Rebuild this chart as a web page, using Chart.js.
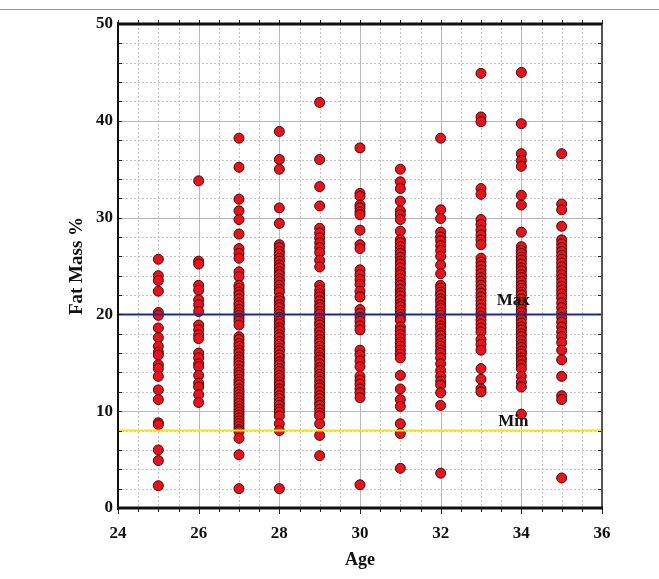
<!DOCTYPE html>
<html>
<head>
<meta charset="utf-8">
<script src="https://cdn.jsdelivr.net/npm/chart.js@4.4.1/dist/chart.umd.min.js"></script>
<style>
  html, body { margin: 0; padding: 0; background: #fff; }
  canvas { display: block; }
</style>
</head>
<body>
<canvas id="fatChart" width="659" height="579"></canvas>
<script>
const ages = [25, 26, 27, 28, 29, 30, 31, 32, 33, 34, 35];

const fat25 = [25.7, 24.0, 23.5, 22.4, 20.2, 19.9, 18.6, 17.6, 16.7, 16.1, 15.8, 14.8, 14.4, 13.6, 12.2, 11.2, 8.8, 8.6, 6.0, 4.9, 2.3];
const fat26 = [33.8, 25.5, 25.2, 23.0, 22.5, 21.5, 21.0, 20.3, 18.9, 18.4, 17.9, 17.5, 16.0, 15.5, 14.9, 14.6, 13.7, 12.9, 12.5, 11.7, 10.9];
const fat27 = [38.2, 35.2, 31.9, 30.7, 29.8, 28.3, 26.8, 26.3, 25.8, 24.4, 23.9, 23.0, 22.7, 22.3, 22.0, 21.6, 21.2, 20.9, 20.5, 20.2, 19.9, 19.6, 19.3, 18.9,
  17.7, 17.4, 17.0, 16.7, 16.3, 16.0, 15.6, 15.3, 15.0, 14.7, 14.3, 14.0, 13.7, 13.3, 13.0, 12.7, 12.3, 12.0, 11.7, 11.4, 11.1, 10.8, 10.5, 10.2,
  9.9, 9.6, 9.3, 9.0, 8.7, 8.4, 8.1, 7.9, 7.2, 5.5, 2.0];
const fat28 = [38.9, 36.0, 35.0, 31.0, 29.4, 27.2, 26.9, 26.5, 26.2, 25.8, 25.5, 25.1, 24.8, 24.4, 24.1, 23.7, 23.4, 23.0, 22.6, 22.3,
  21.7, 21.4, 21.0, 20.7, 20.3, 20.0, 19.7, 19.3, 19.0, 18.6, 18.3, 17.9, 17.6, 17.2, 16.9, 16.5, 16.2, 15.8, 15.5, 15.1, 14.8, 14.4,
  14.1, 13.7, 13.4, 13.0, 12.7, 12.3, 12.0, 11.6, 11.3, 10.9, 10.6, 10.2, 9.9, 9.5, 8.7, 8.0, 2.0];
const fat29 = [41.9, 36.0, 33.2, 31.2, 28.9, 28.4, 27.9, 27.4, 26.9, 26.4, 25.6, 24.9, 23.0, 22.5, 22.1, 21.8, 21.4, 21.0, 20.7, 20.3,
  20.0, 19.6, 19.2, 18.9, 18.5, 18.2, 17.8, 17.4, 17.1, 16.7, 16.3, 16.0, 15.6, 15.3, 14.9, 14.5, 14.2, 13.8, 13.5, 13.1, 12.7, 12.4,
  12.0, 11.6, 11.3, 10.9, 10.6, 10.2, 9.8, 9.5, 8.7, 7.5, 5.4];
const fat30 = [37.2, 32.5, 32.2, 31.3, 31.0, 30.6, 30.3, 28.7, 27.2, 26.8, 24.6, 24.1, 23.6, 23.1, 22.4, 21.8, 20.5, 20.1, 19.7, 19.3,
  18.8, 18.4, 16.3, 15.8, 15.2, 14.6, 13.6, 13.2, 12.8, 12.3, 11.9, 11.4, 2.4];
const fat31 = [35.0, 33.7, 33.0, 31.7, 30.7, 30.3, 29.8, 28.6, 27.7, 27.4, 27.0, 26.6, 26.3, 25.9, 25.5, 25.2, 24.8, 24.4, 24.1, 23.7,
  23.3, 23.0, 22.6, 22.2, 21.9, 21.5, 21.1, 20.8, 20.4, 20.0, 19.7, 19.4, 18.7, 18.3, 17.9, 17.5, 17.1, 16.7, 16.3, 15.9, 15.5, 13.7,
  12.3, 11.2, 10.5, 8.7, 7.7, 4.1];
const fat32 = [38.2, 30.8, 29.9, 28.5, 28.0, 27.6, 27.1, 26.6, 26.0, 25.1, 24.2, 23.0, 22.7, 22.3, 22.0, 21.6, 21.3, 20.9, 20.6, 20.2,
  19.9, 19.5, 19.2, 18.8, 18.5, 18.1, 17.8, 17.4, 17.0, 16.7, 16.3, 16.0, 15.5, 14.9, 14.2, 13.6, 13.1, 12.7, 11.9, 10.6, 3.6];
const fat33 = [44.9, 40.4, 39.9, 33.0, 32.4, 29.8, 29.3, 28.7, 28.2, 27.7, 27.2, 25.8, 25.4, 25.0, 24.6, 24.2, 23.8, 23.4, 23.0, 22.6,
  22.2, 21.8, 21.4, 21.0, 20.6, 20.2, 19.8, 19.4, 19.0, 18.6, 18.2, 17.4, 16.9, 16.3, 14.4, 13.3, 12.3, 12.0];
const fat34 = [45.0, 39.7, 36.6, 35.9, 35.3, 32.3, 31.3, 28.5, 27.0, 26.6, 26.3, 25.9, 25.6, 25.2, 24.8, 24.5, 24.1, 23.8, 23.4, 23.0,
  22.7, 22.3, 22.0, 21.6, 21.2, 20.9, 20.5, 20.2, 19.8, 19.5, 19.1, 18.7, 18.4, 18.0, 17.7, 17.3, 16.9, 16.6, 16.2, 15.9, 15.5, 15.2,
  14.8, 14.4, 13.6, 13.0, 12.5, 9.7];
const fat35 = [36.6, 31.4, 30.8, 29.1, 27.7, 27.3, 26.9, 26.5, 26.1, 25.7, 25.3, 24.9, 24.5, 24.1, 23.7, 23.3, 22.9, 22.5, 22.1, 21.7,
  21.2, 20.7, 20.2, 19.7, 19.2, 18.7, 18.2, 17.7, 17.1, 16.3, 15.3, 13.6, 11.6, 11.2, 3.1];

const fatByAge = [fat25, fat26, fat27, fat28, fat29, fat30, fat31, fat32, fat33, fat34, fat35];

const maxLimit = 20;
const minLimit = 8;
const xRange = [24, 36];
const yRange = [0, 50];
const xLabels = [24, 26, 28, 30, 32, 34, 36];
const yLabels = [0, 10, 20, 30, 40, 50];

const serif = "'Liberation Serif', 'Times New Roman', serif";

let puntos = [];
ages.forEach((edad, i) => {
  fatByAge[i].forEach((v) => puntos.push({ x: edad, y: v }));
});

// grid, frame, ticks and Max/Min text
const marco = {
  id: "marco",
  beforeDatasetsDraw(chart) {
    const { ctx, chartArea: a, scales: { x, y } } = chart;
    ctx.save();
    ctx.lineWidth = 1;
    // minor dotted grid
    ctx.strokeStyle = "#c4c4c4";
    ctx.setLineDash([2, 2]);
    for (let v = xRange[0] + 0.5; v < xRange[1]; v += 0.5) {
      if (v % 2 === 0) continue;
      const px = Math.round(x.getPixelForValue(v)) + 0.5;
      ctx.beginPath(); ctx.moveTo(px, a.top); ctx.lineTo(px, a.bottom); ctx.stroke();
    }
    for (let v = 2; v < yRange[1]; v += 2) {
      if (v % 10 === 0) continue;
      const py = Math.round(y.getPixelForValue(v)) + 0.5;
      ctx.beginPath(); ctx.moveTo(a.left, py); ctx.lineTo(a.right, py); ctx.stroke();
    }
    // major solid grid
    ctx.setLineDash([]);
    ctx.strokeStyle = "#b8b8b8";
    xLabels.slice(1, -1).forEach((v) => {
      const px = Math.round(x.getPixelForValue(v)) + 0.5;
      ctx.beginPath(); ctx.moveTo(px, a.top); ctx.lineTo(px, a.bottom); ctx.stroke();
    });
    yLabels.slice(1, -1).forEach((v) => {
      const py = Math.round(y.getPixelForValue(v)) + 0.5;
      ctx.beginPath(); ctx.moveTo(a.left, py); ctx.lineTo(a.right, py); ctx.stroke();
    });
    ctx.restore();
  },
  afterDatasetsDraw(chart) {
    const { ctx, chartArea: a, scales: { x, y } } = chart;
    ctx.save();
    // outer figure border
    ctx.strokeStyle = "#9a9a9a";
    ctx.lineWidth = 1;
    ctx.beginPath(); ctx.moveTo(0, 9.5); ctx.lineTo(659, 9.5); ctx.stroke();

    // ticks
    ctx.strokeStyle = "#222";
    for (let v = xRange[0]; v <= xRange[1]; v += 0.5) {
      const px = Math.round(x.getPixelForValue(v)) + 0.5;
      const len = v % 2 === 0 ? 6 : 4;
      ctx.beginPath(); ctx.moveTo(px, a.top); ctx.lineTo(px, a.top - 4); ctx.stroke();
      ctx.beginPath(); ctx.moveTo(px, a.bottom); ctx.lineTo(px, a.bottom + len); ctx.stroke();
    }
    for (let v = yRange[0]; v <= yRange[1]; v += 2) {
      const py = Math.round(y.getPixelForValue(v)) + 0.5;
      ctx.beginPath(); ctx.moveTo(a.left, py); ctx.lineTo(a.left + 4, py); ctx.stroke();
      ctx.beginPath(); ctx.moveTo(a.right, py); ctx.lineTo(a.right - 4, py); ctx.stroke();
    }

    // frame
    ctx.strokeStyle = "#555";
    ctx.lineWidth = 2;
    ctx.beginPath(); ctx.moveTo(a.right, a.top); ctx.lineTo(a.right, a.bottom); ctx.stroke();
    ctx.strokeStyle = "#111";
    ctx.beginPath(); ctx.moveTo(a.left, a.top - 2); ctx.lineTo(a.left, a.bottom + 2); ctx.stroke();
    ctx.lineWidth = 3;
    ctx.beginPath(); ctx.moveTo(a.left, a.top); ctx.lineTo(a.right, a.top); ctx.stroke();
    ctx.beginPath(); ctx.moveTo(a.left, a.bottom); ctx.lineTo(a.right + 1, a.bottom); ctx.stroke();

    // limit labels
    ctx.fillStyle = "#111";
    ctx.font = "bold 17px " + serif;
    ctx.textAlign = "center";
    ctx.textBaseline = "middle";
    ctx.fillText("Max", x.getPixelForValue(33.8), y.getPixelForValue(21.4));
    ctx.fillText("Min", x.getPixelForValue(33.8), y.getPixelForValue(8.9));
    ctx.restore();
  },
};

new Chart(document.getElementById("fatChart"), {
  type: "scatter",
  data: {
    datasets: [
      {
        type: "line",
        label: "Max",
        data: [{ x: xRange[0], y: maxLimit }, { x: xRange[1], y: maxLimit }],
        borderColor: "#1f2a8c",
        borderWidth: 2,
        pointRadius: 0,
        order: 0,
      },
      {
        type: "line",
        label: "Min",
        data: [{ x: xRange[0], y: minLimit }, { x: xRange[1], y: minLimit }],
        borderColor: "#f2e31c",
        borderWidth: 2,
        pointRadius: 0,
        order: 0,
      },
      {
        label: "Fat Mass %",
        data: puntos,
        backgroundColor: "#e3141d",
        borderColor: "#4a0606",
        borderWidth: 1,
        pointRadius: 5,
        order: 1,
      },
    ],
  },
  options: {
    responsive: false,
    animation: false,
    events: [],
    layout: { padding: { top: 24, right: 57, left: 0, bottom: 0 } },
    plugins: { legend: { display: false }, tooltip: { enabled: false } },
    scales: {
      x: {
        type: "linear",
        min: xRange[0],
        max: xRange[1],
        afterFit: (scale) => { scale.height = 71; },
        afterBuildTicks: (scale) => { scale.ticks = xLabels.map((v) => ({ value: v })); },
        grid: { display: false, drawTicks: false },
        border: { display: false },
        ticks: {
          padding: 15,
          color: "#111",
          font: { family: serif, size: 17, weight: "bold" },
        },
        title: {
          display: true,
          text: "Age",
          color: "#111",
          padding: { top: 0, bottom: 8 },
          font: { family: serif, size: 18, weight: "bold" },
        },
      },
      y: {
        type: "linear",
        min: yRange[0],
        max: yRange[1],
        afterFit: (scale) => { scale.width = 118; },
        afterBuildTicks: (scale) => { scale.ticks = yLabels.map((v) => ({ value: v })); },
        grid: { display: false, drawTicks: false },
        border: { display: false },
        ticks: {
          padding: 5,
          color: "#111",
          font: { family: serif, size: 17, weight: "bold" },
        },
        title: {
          display: true,
          text: "Fat Mass %",
          color: "#111",
          padding: { top: 66, bottom: 0 },
          font: { family: serif, size: 19, weight: "bold" },
        },
      },
    },
  },
  plugins: [marco],
});
</script>
</body>
</html>
